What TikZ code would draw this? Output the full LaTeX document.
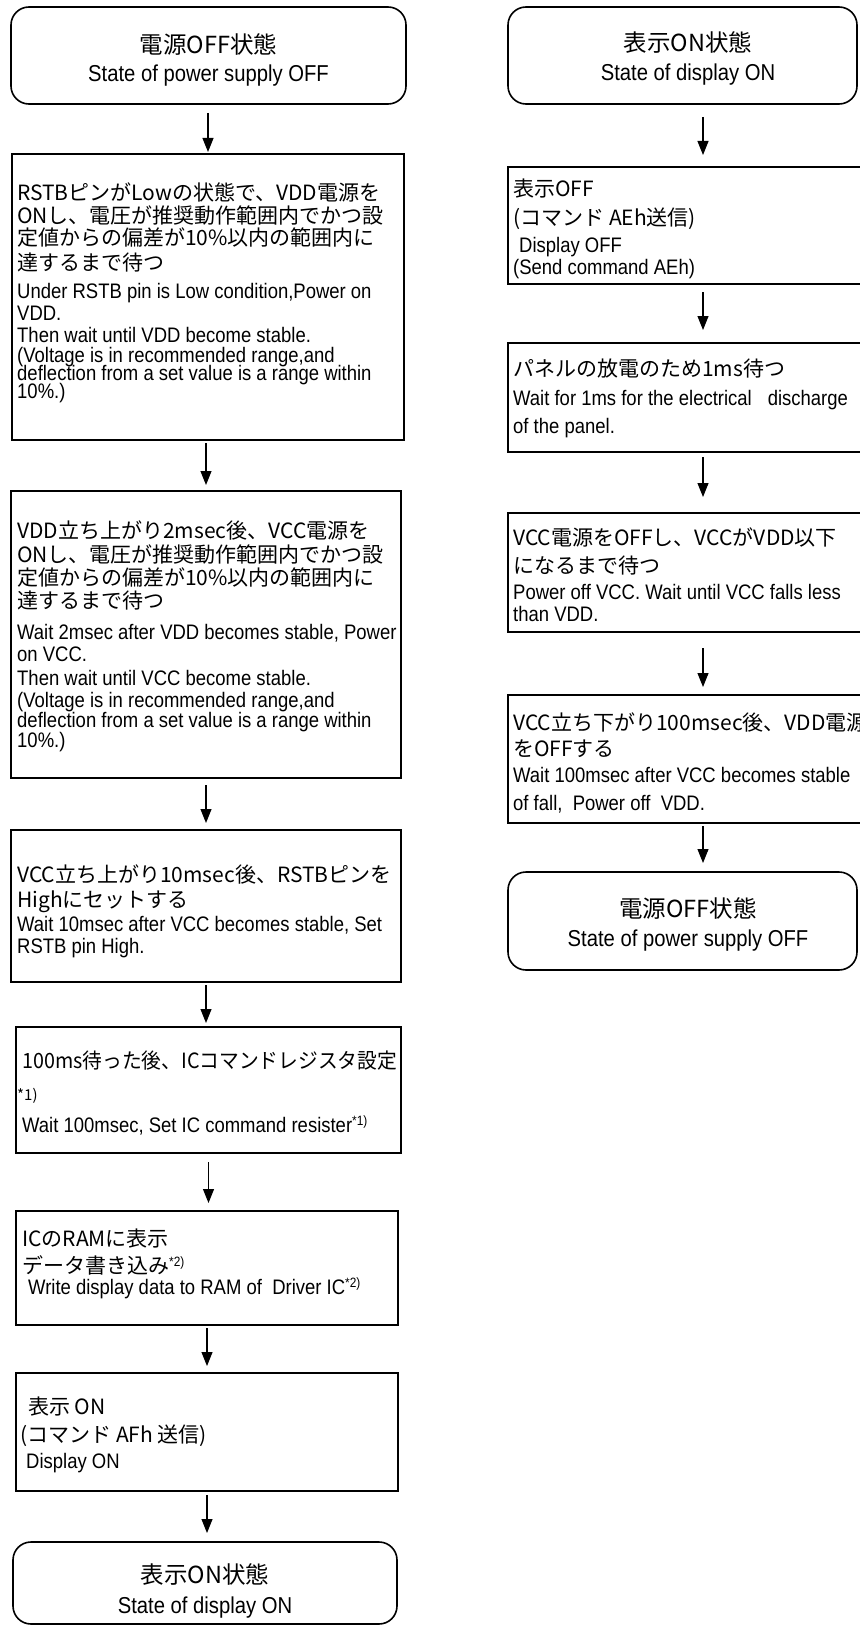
\documentclass[tikz,border=0pt]{standalone}
\usepackage{fontspec}
\usepackage{graphicx}
\usetikzlibrary{arrows.meta}
\newfontfamily\enfont{Liberation Sans}[FakeStretch=0.88]
\newfontfamily\jpfont{Noto Sans CJK JP}
\newcommand\EN{\enfont\fontsize{21}{25}\selectfont}
\newcommand\JP{\jpfont\fontsize{21}{25}\selectfont}
\newcommand\TJ{\jpfont\fontsize{23.5}{27}\selectfont}
\newcommand\TE{\enfont\fontsize{23}{27}\selectfont}
\newcommand\SMJ{\jpfont\fontsize{15}{17}\selectfont}
\newcommand\SUP[1]{\raisebox{7pt}{\enfont\fontsize{13.5}{15}\selectfont #1}}
\newcommand\tline[5]{\node[txt,font=#4] (#1) at (#2,#3) {#5};}
\newcommand\ctline[5]{\node[ctxt,font=#4] (#1) at (#2,#3) {#5};}
\begin{document}
\begin{tikzpicture}[x=1pt,y=-1pt,
  stepbox/.style={draw, line width=1.6pt, inner sep=0pt, outer sep=0pt},
  statebox/.style={stepbox, rounded corners=18pt},
  txt/.style={anchor=base west, inner sep=0pt},
  ctxt/.style={anchor=base, inner sep=0pt},
  arr/.style={draw, line width=1.1pt, -{Triangle[length=14pt,width=11pt]}}]
\useasboundingbox (0,0) rectangle (859,1627);
\fill[white] (0,0) rectangle (859,1627);

% ---------- left column boxes ----------
\node[statebox, minimum width=395pt, minimum height=97pt] (b1) at (208.5,55.5) {};
\node[stepbox, minimum width=392pt, minimum height=286pt] (b2) at (208,297) {};
\node[stepbox, minimum width=390pt, minimum height=287pt] (b3) at (206,634.5) {};
\node[stepbox, minimum width=390pt, minimum height=152pt] (b4) at (206,906) {};
\node[stepbox, minimum width=385pt, minimum height=126pt] (b5) at (208.5,1090) {};
\node[stepbox, minimum width=382pt, minimum height=114pt] (b6) at (207,1268) {};
\node[stepbox, minimum width=382pt, minimum height=118pt] (b7) at (207,1432) {};
\node[statebox, minimum width=384pt, minimum height=82pt] (b8) at (205,1583) {};

% ---------- right column boxes ----------
\node[statebox, minimum width=349pt, minimum height=97pt] (r1) at (682.5,55.5) {};
\node[stepbox, minimum width=390pt, minimum height=117pt] (r2) at (703,225.5) {};
\node[stepbox, minimum width=390pt, minimum height=109pt] (r3) at (703,397.5) {};
\node[stepbox, minimum width=390pt, minimum height=119pt] (r4) at (703,572.5) {};
\node[stepbox, minimum width=390pt, minimum height=128pt] (r5) at (703,759) {};
\node[statebox, minimum width=349pt, minimum height=98pt] (r6) at (682.5,921) {};

% ---------- left column text ----------
\ctline{b1a}{208.5}{54}{\TJ}{電源OFF状態}
\ctline{b1b}{208.5}{82}{\TE}{State of power supply OFF}

\tline{b2a}{17}{200}{\JP}{RSTBピンがLowの状態で、VDD電源を}
\tline{b2b}{17}{223}{\JP}{ONし、電圧が推奨動作範囲内でかつ設}
\tline{b2c}{17}{245}{\JP}{定値からの偏差が10\%以内の範囲内に}
\tline{b2d}{17}{270}{\JP}{達するまで待つ}
\tline{b2e}{17}{298}{\EN}{Under RSTB pin is Low condition,Power on}
\tline{b2f}{17}{320}{\EN}{VDD.}
\tline{b2g}{17}{342}{\EN}{Then wait until VDD become stable.}
\tline{b2h}{17}{362}{\EN}{(Voltage is in recommended range,and}
\tline{b2i}{17}{380}{\EN}{deflection from a set value is a range within}
\tline{b2j}{17}{398}{\EN}{10\%.)}

\tline{b3a}{17}{538}{\JP}{VDD立ち上がり2msec後、VCC電源を}
\tline{b3b}{17}{562}{\JP}{ONし、電圧が推奨動作範囲内でかつ設}
\tline{b3c}{17}{585}{\JP}{定値からの偏差が10\%以内の範囲内に}
\tline{b3d}{17}{608}{\JP}{達するまで待つ}
\tline{b3e}{17}{639}{\EN}{Wait 2msec after VDD becomes stable, Power}
\tline{b3f}{17}{661}{\EN}{on VCC.}
\tline{b3g}{17}{685}{\EN}{Then wait until VCC become stable.}
\tline{b3h}{17}{707}{\EN}{(Voltage is in recommended range,and}
\tline{b3i}{17}{727}{\EN}{deflection from a set value is a range within}
\tline{b3j}{17}{747}{\EN}{10\%.)}

\tline{b4a}{17}{882}{\JP}{VCC立ち上がり10msec後、RSTBピンを}
\tline{b4b}{17}{907}{\JP}{Highにセットする}
\tline{b4c}{17}{931}{\EN}{Wait 10msec after VCC becomes stable, Set}
\tline{b4d}{17}{953}{\EN}{RSTB pin High.}

\tline{b5a}{22}{1068}{\JP}{\scalebox{0.94}[1]{100ms待った後、ICコマンドレジスタ設定}}
\tline{b5b}{17}{1100}{\SMJ}{*1)}
\tline{b5c}{22}{1132}{\EN}{Wait 100msec, Set IC command resister\SUP{*1)}}

\tline{b6a}{22}{1246}{\JP}{ICのRAMに表示}
\tline{b6b}{22}{1273}{\JP}{データ書き込み\SUP{*2)}}
\tline{b6c}{28}{1294}{\EN}{Write display data to RAM of\ \ Driver IC\SUP{*2)}}

\tline{b7a}{28}{1414}{\JP}{表示 ON}
\tline{b7b}{20}{1442}{\JP}{(コマンド AFh 送信)}
\tline{b7c}{26}{1468}{\EN}{Display ON}

\ctline{b8a}{205}{1583}{\TJ}{表示ON状態}
\ctline{b8b}{205}{1613}{\TE}{State of display ON}

% ---------- right column text ----------
\ctline{r1a}{688}{52}{\TJ}{表示ON状態}
\ctline{r1b}{688}{81}{\TE}{State of display ON}

\tline{r2a}{513}{196}{\JP}{表示OFF}
\tline{r2b}{513}{225}{\JP}{(コマンド AEh送信)}
\tline{r2c}{519}{252}{\EN}{Display OFF}
\tline{r2d}{513}{274}{\EN}{(Send command AEh)}

\tline{r3a}{513}{376}{\JP}{パネルの放電のため1ms待つ}
\tline{r3b}{513}{405}{\EN}{Wait for 1ms for the electrical\hspace{16pt}discharge}
\tline{r3c}{513}{433}{\EN}{of the panel.}

\tline{r4a}{513}{545}{\JP}{VCC電源をOFFし、VCCがVDD以下}
\tline{r4b}{513}{573}{\JP}{になるまで待つ}
\tline{r4c}{513}{599}{\EN}{Power off VCC. Wait until VCC falls less}
\tline{r4d}{513}{621}{\EN}{than VDD.}

\tline{r5a}{513}{730}{\JP}{VCC立ち下がり100msec後、VDD電源}
\tline{r5b}{513}{756}{\JP}{をOFFする}
\tline{r5c}{513}{782}{\EN}{Wait 100msec after VCC becomes stable}
\tline{r5d}{513}{810}{\EN}{of fall,\ \ Power off\ \ VDD.}

\ctline{r6a}{688}{917}{\TJ}{電源OFF状態}
\ctline{r6b}{688}{946}{\TE}{State of power supply OFF}

% ---------- connectors ----------
\draw[arr, shorten <=9pt, shorten >=2pt] (b2.north |- b1.south) -- (b2.north);
\draw[arr, shorten <=3pt, shorten >=6pt] (b3.north |- b2.south) -- (b3.north);
\draw[arr, shorten <=7pt, shorten >=7pt] (b3.south) -- (b3.south |- b4.north);
\draw[arr, shorten <=3pt, shorten >=4pt] (b4.south) -- (b4.south |- b5.north);
\draw[arr, shorten <=9pt, shorten >=8pt] (b5.south) -- (b5.south |- b6.north);
\draw[arr, shorten <=3pt, shorten >=7pt] (b6.south) -- (b6.south |- b7.north);
\draw[arr, shorten <=4pt, shorten >=9pt] (b7.south) -- (b7.south |- b8.north);

\draw[arr, shorten <=13pt, shorten >=12pt] (r2.north |- r1.south) -- (r2.north);
\draw[arr, shorten <=8pt, shorten >=13pt] (r2.south) -- (r3.north);
\draw[arr, shorten <=5pt, shorten >=16pt] (r3.south) -- (r4.north);
\draw[arr, shorten <=16pt, shorten >=8pt] (r4.south) -- (r5.north);
\draw[arr, shorten <=3pt, shorten >=9pt] (r5.south) -- (r5.south |- r6.north);
\end{tikzpicture}
\end{document}
